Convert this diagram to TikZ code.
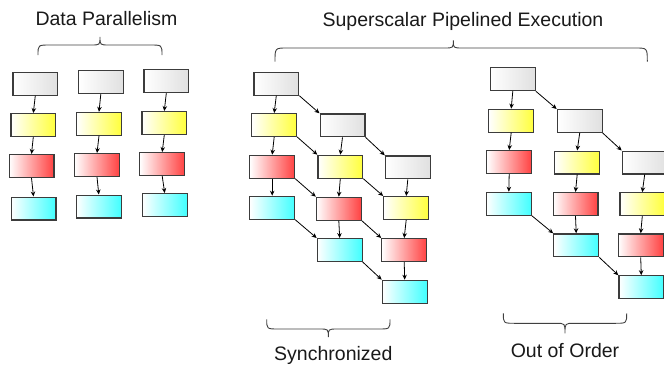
\documentclass[tikz,border=0pt]{standalone}
\usepackage{fontspec}
\setmainfont{Liberation Sans}
\usetikzlibrary{arrows.meta}

\definecolor{stgray}{RGB}{224,224,224}
\definecolor{styellow}{RGB}{255,255,60}
\definecolor{stred}{RGB}{255,66,66}
\definecolor{stcyan}{RGB}{66,255,255}
\definecolor{boxline}{RGB}{60,60,60}
\definecolor{txt}{RGB}{25,25,25}

\tikzset{
  stage/.style={draw=boxline, line width=1.2pt, minimum width=44.8pt, minimum height=22.8pt,
                inner sep=0pt},
  fetch/.style={stage, left color=white, right color=stgray},
  decode/.style={stage, left color=white, right color=styellow},
  exec/.style={stage, left color=white, right color=stred},
  store/.style={stage, left color=white, right color=stcyan},
  flow/.style={draw=black, line width=0.8pt, -{Stealth[length=5pt,width=4.5pt]}},
  brace/.style={draw=black!75, line width=0.9pt},
  title/.style={font=\fontsize{19.5}{23}\selectfont, text=txt, inner sep=0pt, anchor=base}
}

% curly brace: ends at (#1,#4) and (#3,#4), flat part at #5, tip at (#2,#6)
\newcommand{\curlybrace}[6]{%
  \draw[brace] (#1,#4) .. controls (#1,#5) .. (#1+12,#5) -- (#2-9,#5)
    .. controls (#2,#5) .. (#2,#6) .. controls (#2,#5) .. (#2+9,#5)
    -- (#3-12,#5) .. controls (#3,#5) .. (#3,#4);}

\begin{document}
\begin{tikzpicture}[x=1pt,y=-1pt]
\useasboundingbox (0,0) rectangle (664,370);

% ---- data parallelism ----
\node[title] (tdp) at (106.5,25.7) {Data Parallelism};
\curlybrace{38}{100}{162}{55}{45}{37}

\node[fetch]  (d1f) at (35.3,83.7) {};
\node[decode] (d1d) at (33.3,125) {};
\node[exec]   (d1e) at (31.5,166) {};
\node[store]  (d1s) at (33.5,208.5) {};
\node[fetch]  (d2f) at (100.8,82.2) {};
\node[decode] (d2d) at (99,123.8) {};
\node[exec]   (d2e) at (97,165) {};
\node[store]  (d2s) at (98.8,206.5) {};
\node[fetch]  (d3f) at (166.3,81.2) {};
\node[decode] (d3d) at (164.3,123) {};
\node[exec]   (d3e) at (162.2,164) {};
\node[store]  (d3s) at (164.7,205) {};

\foreach \c in {1,2,3}{
  \draw[flow] (d\c f.south) -- (d\c d.north);
  \draw[flow] (d\c d.south) -- (d\c e.north);
  \draw[flow] (d\c e.south) -- (d\c s.north);
}

% ---- superscalar pipelined execution ----
\node[title] (tss) at (463,26) {Superscalar Pipelined Execution};
\curlybrace{275}{453.3}{647.3}{61.7}{48}{40.5}

% synchronized
\node[fetch]  (saf) at (276.3,83.7) {};
\node[decode] (sad) at (274.2,125) {};
\node[exec]   (sae) at (272.2,166.7) {};
\node[store]  (sas) at (272.2,207.7) {};
\node[fetch]  (sbf) at (342.5,125.3) {};
\node[decode] (sbd) at (340.3,166.7) {};
\node[exec]   (sbe) at (338.8,208.7) {};
\node[store]  (sbs) at (339.7,250) {};
\node[fetch]  (scf) at (407.8,167.3) {};
\node[decode] (scd) at (406.2,208) {};
\node[exec]   (sce) at (404.2,250) {};
\node[store]  (scs) at (404.7,291.7) {};

\foreach \c in {a,b,c}{
  \draw[flow] (s\c f.south) -- (s\c d.north);
  \draw[flow] (s\c d.south) -- (s\c e.north);
  \draw[flow] (s\c e.south) -- (s\c s.north);
}
\foreach \p/\q in {a/b,b/c}{
  \foreach \k in {f,d,e,s}{
    \draw[flow] (s\p\k.south east) -- (s\q\k.north west);
  }
}

\curlybrace{266.7}{328.3}{390}{319.3}{329}{337}
\node[title] (tsy) at (333.3,360) {Synchronized};

% out of order
\node[fetch]  (oaf) at (512.8,79.2) {};
\node[decode] (oad) at (511.2,120.7) {};
\node[exec]   (oae) at (509.2,162) {};
\node[store]  (oas) at (508.8,203.7) {};
\node[fetch]  (obf) at (579.7,121) {};
\node[decode] (obd) at (577.2,162.5) {};
\node[exec]   (obe) at (575.5,204) {};
\node[store]  (obs) at (576.2,245.3) {};
\node[fetch]  (ocf) at (644.7,162.5) {};
\node[decode] (ocd) at (642.3,204.2) {};
\node[exec]   (oce) at (640.7,245.3) {};
\node[store]  (ocs) at (641.3,287.2) {};

\foreach \c in {a,b,c}{
  \draw[flow] (o\c f.south) -- (o\c d.north);
  \draw[flow] (o\c d.south) -- (o\c e.north);
  \draw[flow] (o\c e.south) -- (o\c s.north);
}
\draw[flow] (oaf.south east) -- (obf.north west);
\draw[flow] (obf.south east) -- (ocf.north west);
\draw[flow] (oas.south east) -- (obs.north west);
\draw[flow] (obs.south east) -- (ocs.north west);

\curlybrace{503.3}{565}{626.7}{313.3}{323.3}{333.3}
\node[title] (too) at (565,357.5) {Out of Order};
\end{tikzpicture}
\end{document}
